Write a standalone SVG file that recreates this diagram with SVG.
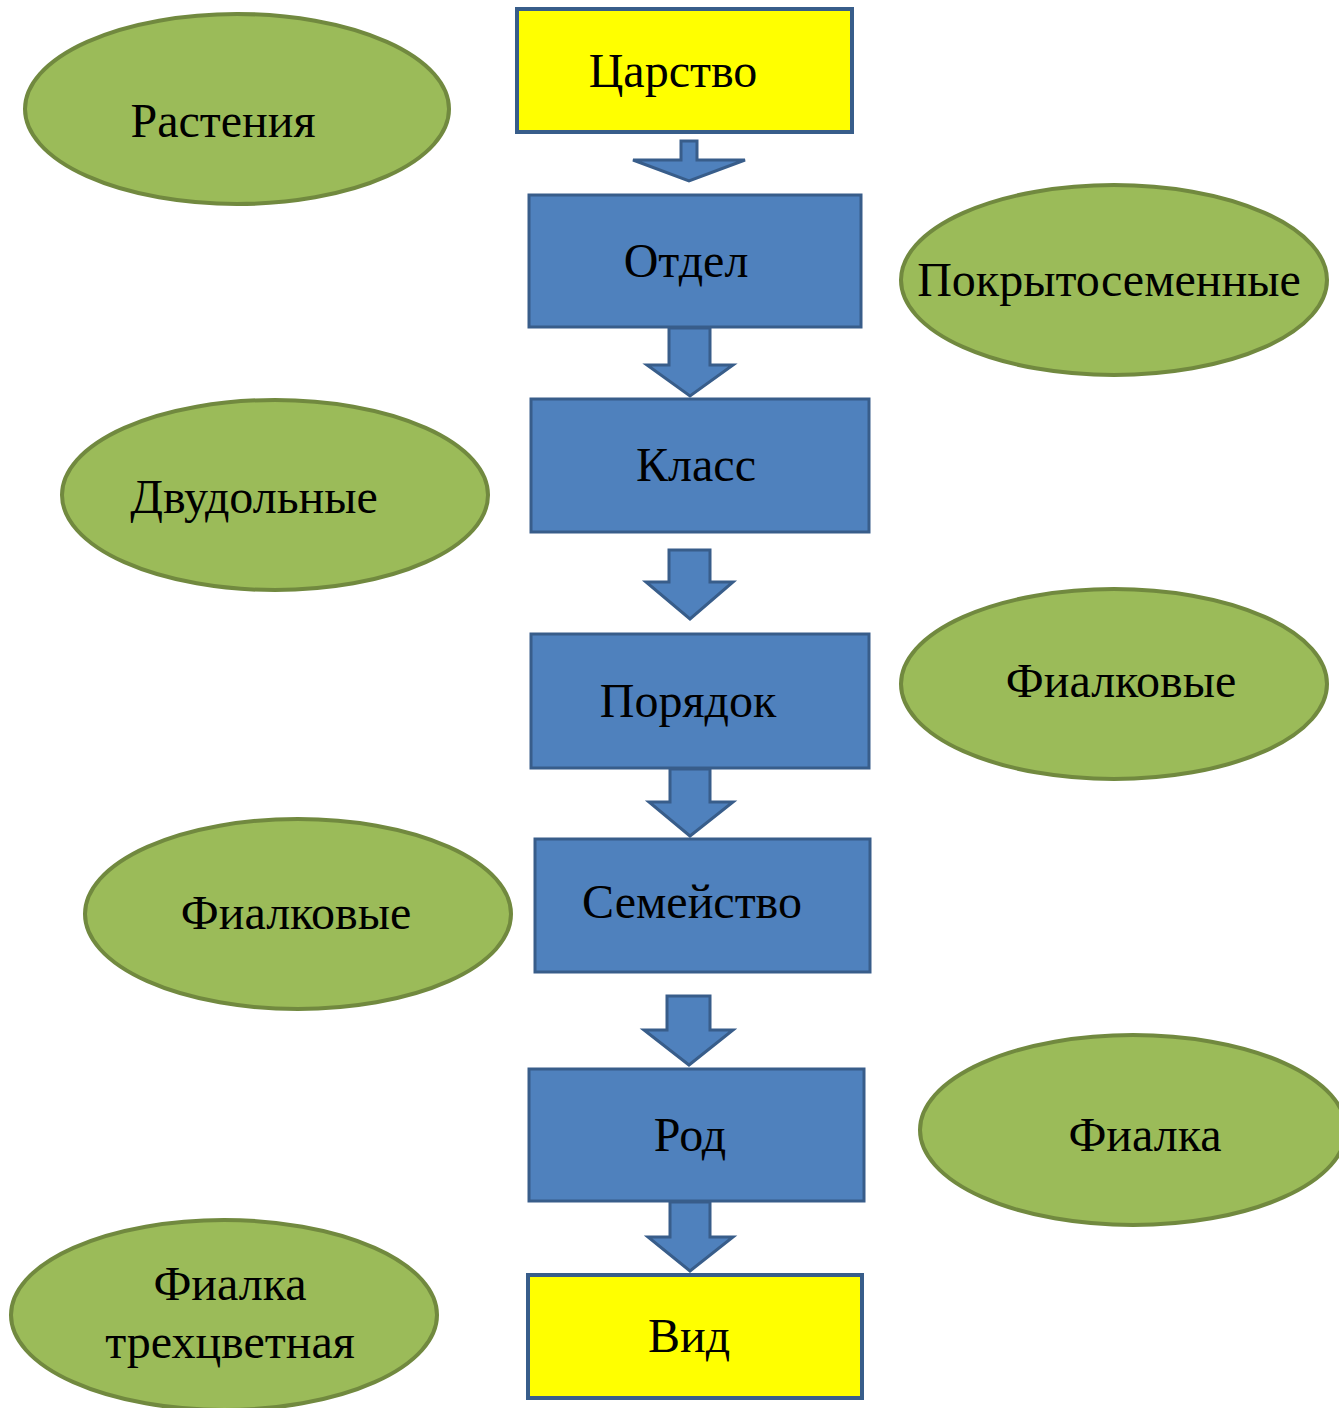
<svg xmlns="http://www.w3.org/2000/svg" width="1339" height="1408" viewBox="0 0 1339 1408">
<style>
.box{fill:#4F81BD;stroke:#385D8A;stroke-width:3}
.yb{fill:#FFFF00;stroke:#385D8A;stroke-width:4}
.ell{fill:#9BBB59;stroke:#71893F;stroke-width:4}
.arr{fill:#4F81BD;stroke:#385D8A;stroke-width:3;stroke-linejoin:miter}
text{font-family:"Liberation Serif","Times New Roman",serif;font-size:48px;fill:#000;text-anchor:middle}
</style>
<rect width="1339" height="1408" fill="#fff"/>
<g id="connectors">
<polygon class="arr" points="681,141 697,141 697,160 745,160 689,181 633,160 681,160"/>
<polygon class="arr" points="669,328 710,328 710,365 733,365 690,396 647,365 669,365"/>
<polygon class="arr" points="669,550 710,550 710,582 733,582 690,619 646,582 669,582"/>
<polygon class="arr" points="670,769 710,769 710,802 733,802 690,836 649,802 670,802"/>
<polygon class="arr" points="667,996 710,996 710,1030 733,1030 689,1065 644,1030 667,1030"/>
<polygon class="arr" points="670,1202 710,1202 710,1237 733,1237 690,1271 648,1237 670,1237"/>
</g>
<g id="tsarstvo"><rect class="yb" x="517" y="9" width="335" height="123"/><text x="673" y="87">Царство</text></g>
<g id="otdel"><rect class="box" x="529" y="195" width="332" height="132"/><text x="686" y="277">Отдел</text></g>
<g id="klass"><rect class="box" x="531" y="399" width="338" height="133"/><text x="696" y="481">Класс</text></g>
<g id="poryadok"><rect class="box" x="531" y="634" width="338" height="134"/><text x="688" y="717">Порядок</text></g>
<g id="semeystvo"><rect class="box" x="535" y="839" width="335" height="133"/><text x="692" y="918">Семейство</text></g>
<g id="rod"><rect class="box" x="529" y="1069" width="335" height="132"/><text x="690" y="1151">Род</text></g>
<g id="vid"><rect class="yb" x="528" y="1275" width="334" height="123"/><text x="689" y="1352">Вид</text></g>
<g id="rasteniya"><ellipse class="ell" cx="237" cy="109" rx="212" ry="95"/><text x="223" y="137">Растения</text></g>
<g id="pokrytosemennye"><ellipse class="ell" cx="1114" cy="280" rx="213" ry="95"/><text x="1109" y="296">Покрытосеменные</text></g>
<g id="dvudolnye"><ellipse class="ell" cx="275" cy="495" rx="213" ry="95"/><text x="254" y="513">Двудольные</text></g>
<g id="fialkovye-r"><ellipse class="ell" cx="1114" cy="684" rx="213" ry="95"/><text x="1121" y="697">Фиалковые</text></g>
<g id="fialkovye-l"><ellipse class="ell" cx="298" cy="914" rx="213" ry="95"/><text x="296" y="929">Фиалковые</text></g>
<g id="fialka"><ellipse class="ell" cx="1133" cy="1130" rx="213" ry="95"/><text x="1145" y="1151">Фиалка</text></g>
<g id="fialka-trehtsvetnaya"><ellipse class="ell" cx="224" cy="1315" rx="213" ry="95"/><text x="230" y="1300">Фиалка</text><text x="230" y="1358">трехцветная</text></g>
</svg>
